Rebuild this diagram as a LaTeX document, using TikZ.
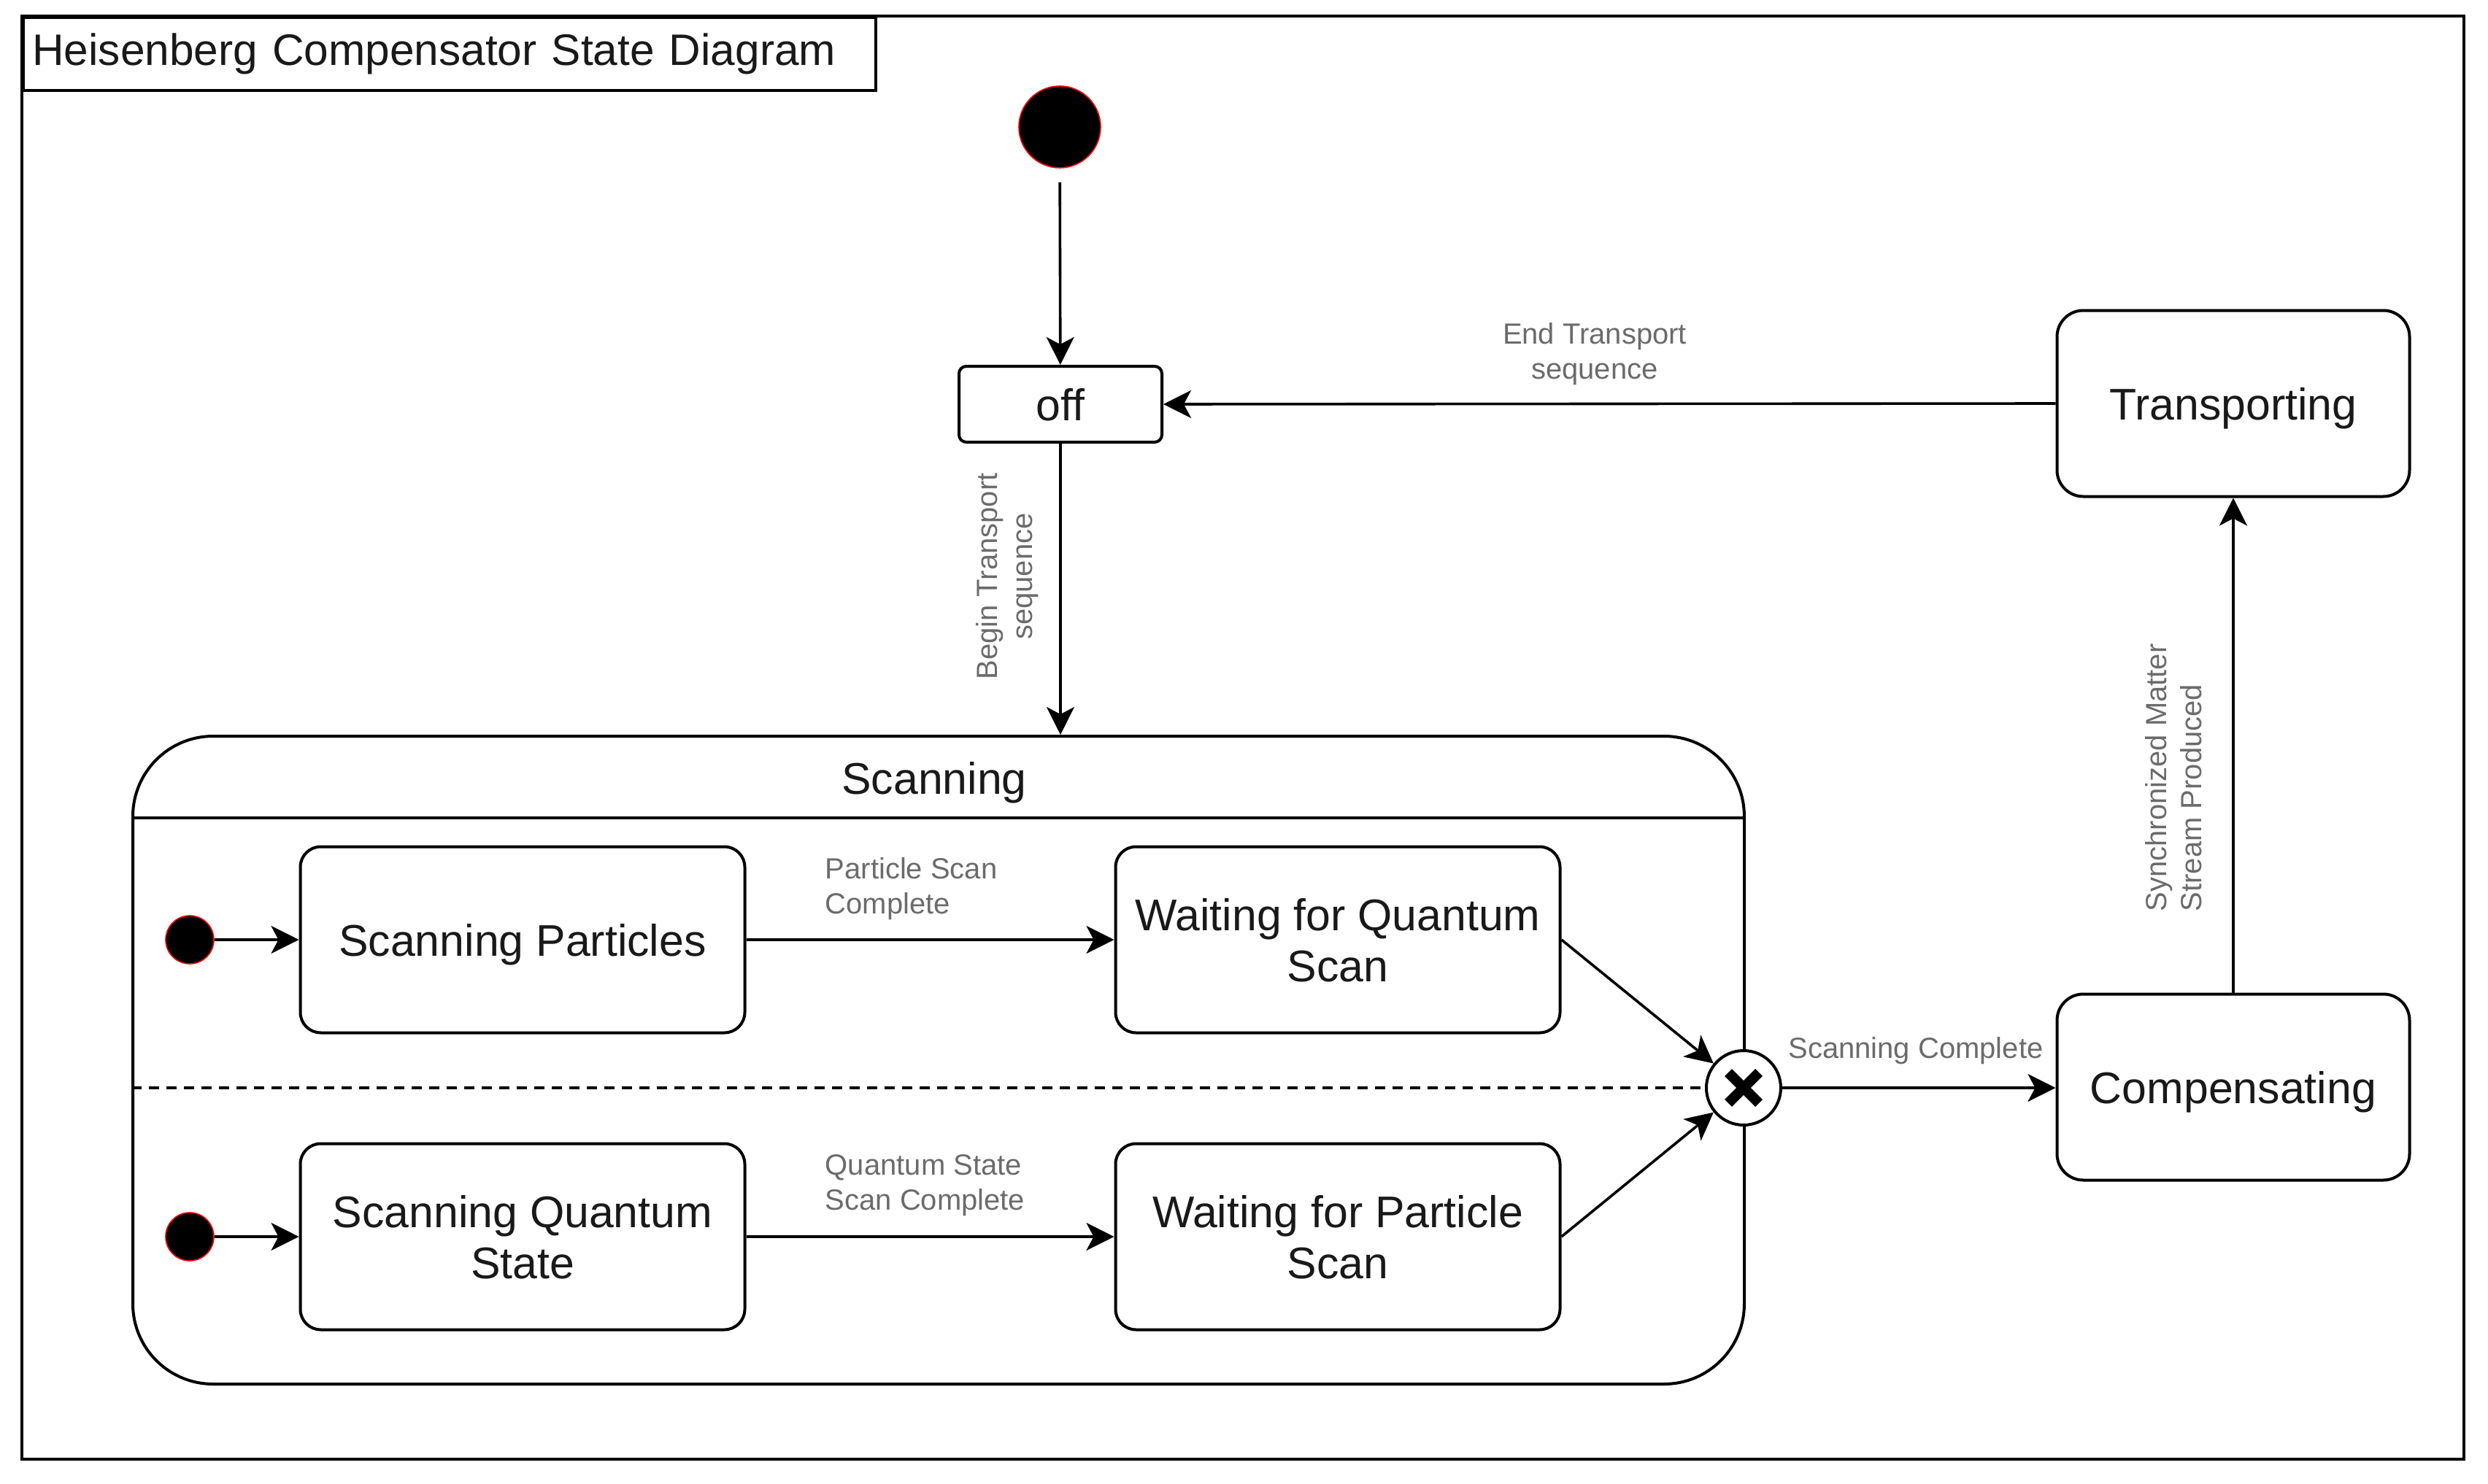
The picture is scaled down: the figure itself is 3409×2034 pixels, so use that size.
\documentclass[tikz,border=0pt]{standalone}
\usepackage{fontspec}
\setmainfont{Liberation Sans}
\usetikzlibrary{arrows.meta}
\newcommand\mainfs{\fontsize{15.2}{17.5}\selectfont}
\newcommand\titlefs{\fontsize{15.1}{18}\selectfont}
\newcommand\lblfs{\fontsize{10}{12}\selectfont}
\begin{document}
\begin{tikzpicture}[x=0.25pt,y=-0.25pt,
  arr/.style={-{Stealth[length=9.5pt,width=9.5pt,inset=2.5pt]}, line width=0.9pt},
  state/.style={draw, rounded corners=7pt, minimum width=152.25pt, minimum height=63.75pt,
    align=center, font=\mainfs, text=black!90, inner sep=2pt, line width=1pt, text depth=0pt},
  bigstate/.style={state, rounded corners=9pt, minimum width=120.75pt},
  initdot/.style={circle, fill=black, draw=red, line width=0.4pt, inner sep=0pt},
  lbl/.style={font=\lblfs, text=black!58, inner sep=0pt},
]
\useasboundingbox (0,0) rectangle (3409,2034);
% frame
\draw[line width=1.1pt] (30,22) rectangle (3376,2000);
\node[draw, line width=1.1pt, anchor=north west, minimum width=292pt, minimum height=25pt,
  inner xsep=3pt, inner ysep=0pt, text width=286pt, align=left, font=\titlefs, text=black!90]
  (title) at (30,22) {Heisenberg Compensator State Diagram};

% top level
\node[initdot, minimum size=28pt] (init) at (1452,174) {};
\node[state, rounded corners=2.5pt, minimum width=69.5pt, minimum height=26pt] (off) at (1453,554) {off};
\node[bigstate] (trans) at (3060,553) {Transporting};
\node[bigstate] (comp) at (3060,1490) {Compensating};

% composite state
\node[draw, rounded corners=27.5pt, minimum width=552pt, minimum height=222pt, line width=1pt, inner sep=0pt]
  (scan) at (1286,1453) {};
\coordinate (hl) at (0,1121);
\draw[line width=1pt] (scan.west |- hl) -- (scan.east |- hl);
\node[font=\mainfs, text=black!90, text depth=0pt] (scantitle) at (1280,1066) {Scanning};

\node[initdot, minimum size=16.5pt] (d1) at (260,1288) {};
\node[initdot, minimum size=16.5pt] (d2) at (260,1695) {};
\node[state] (sp) at (716,1288) {Scanning Particles};
\node[state] (wqs) at (1833,1288) {Waiting for Quantum\\Scan};
\node[state] (sqs) at (716,1695) {Scanning Quantum\\State};
\node[state] (wps) at (1833,1695) {Waiting for Particle\\Scan};

\coordinate (jc) at (2389,1491);
\draw[line width=1pt, dash pattern=on 3.5pt off 2.5pt] (scan.west |- jc) -- (jc);
\node[circle, draw, fill=white, minimum size=25.5pt, inner sep=0pt, line width=1pt] (join) at (jc) {};
\draw[line width=3.5pt] (join.center) ++(-21,-21) -- ++(42,42);
\draw[line width=3.5pt] (join.center) ++(-21,21) -- ++(42,-42);

% transitions
\draw[arr, shorten <=4.75pt] (init) -- (off);
\draw[arr] (off.south) -- (off.south |- scan.north);
\node[lbl, rotate=90, align=center] (lbBegin) at (1380,790) {Begin Transport\\sequence};
\draw[arr] (trans.west) -- (off.east);
\node[lbl, align=center] (lbEnd) at (2185,485) {End Transport\\sequence};

\draw[arr] (d1) -- (sp);
\draw[arr] (d2) -- (sqs);
\draw[arr] (sp) -- (wqs);
\node[lbl, anchor=west, align=left] (lbPS) at (1130,1218) {Particle Scan\\Complete};
\draw[arr] (sqs) -- (wps);
\node[lbl, anchor=west, align=left] (lbQS) at (1130,1625) {Quantum State\\Scan Complete};
\draw[arr] (wqs.east) -- (join);
\draw[arr] (wps.east) -- (join);

\draw[arr] (join) -- (join -| comp.west);
\node[lbl] (lbSC) at (2625,1440) {Scanning Complete};
\draw[arr] (comp.north) -- (trans.south);
\node[lbl, rotate=90, anchor=west, align=left] (lbSM) at (2978,1250) {Synchronized Matter\\Stream Produced};
\end{tikzpicture}
\end{document}
